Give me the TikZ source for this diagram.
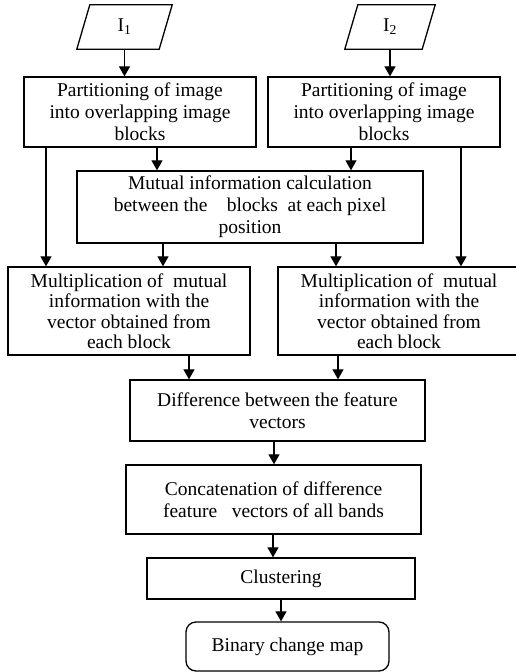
\documentclass[tikz,border=0pt]{standalone}
\usepackage{fontspec}
\setmainfont{Liberation Serif}
\usetikzlibrary{arrows.meta}

\begin{document}
\begin{tikzpicture}[x=1pt, y=-1pt,
  font=\fontsize{19.5}{22}\selectfont,
  box/.style={draw, line width=1.3pt, align=center, inner sep=2pt},
  arr/.style={line width=1.2pt, -{Triangle[length=10pt,width=11pt]}}]
  \useasboundingbox (0,0) rectangle (516,672);
  % inputs
  \node[minimum width=95pt, minimum height=44pt] (i1) at (124.5,27) {I\textsubscript{1}};
  \node[minimum width=90pt, minimum height=44pt] (i2) at (390,27) {I\textsubscript{2}};
  \foreach \n in {i1,i2} {
    \draw[line width=1.3pt] (\n.south west) -- ([xshift=13pt]\n.north west)
      -- (\n.north east) -- ([xshift=-13pt]\n.south east) -- cycle;
  }
  % processing steps
  \node[box, minimum width=232pt, minimum height=70pt] (pl) at (140,112)
    {Partitioning of image\\into overlapping image\\blocks};
  \node[box, minimum width=232pt, minimum height=70pt] (pr) at (384,112)
    {Partitioning of image\\into overlapping image\\blocks};
  \node[box, minimum width=346pt, minimum height=72pt] (mi) at (250,207)
    {Mutual information calculation\\between the\ \ \ \ blocks\ \ at each pixel\\position};
  \node[box, minimum width=242pt, minimum height=88pt, font=\fontsize{19.5}{20.5}\selectfont] (ml) at (129,311)
    {Multiplication of\ \ mutual\\information with the\\vector obtained from\\each block};
  \node[box, minimum width=242pt, minimum height=88pt, font=\fontsize{19.5}{20.5}\selectfont] (mr) at (399,311)
    {Multiplication of\ \ mutual\\information with the\\vector obtained from\\each block};
  \node[box, minimum width=295pt, minimum height=61pt] (df) at (277.5,410.5)
    {Difference between the feature\\vectors};
  \node[box, minimum width=295pt, minimum height=69pt] (cc) at (273.5,499.5)
    {Concatenation of difference\\feature\ \ \ vectors of all bands};
  \node[box, minimum width=268pt, minimum height=41pt] (cl) at (281,578.5) {Clustering};
  \node[box, rounded corners=10pt, minimum width=203pt, minimum height=49pt] (bm) at (287.5,646.5)
    {Binary change map};
  % connectors
  \draw[arr] (i1.south) -- (pl.north -| i1.south);
  \draw[arr] (i2.south) -- (pr.north -| i2.south);
  \draw[arr] (pl.south -| 46,0) -- (ml.north -| 46,0);
  \draw[arr] (pl.south -| 157,0) -- (mi.north -| 157,0);
  \draw[arr] (pr.south -| 351,0) -- (mi.north -| 351,0);
  \draw[arr] (pr.south -| 461,0) -- (mr.north -| 461,0);
  \draw[arr] (mi.south -| 163,0) -- (ml.north -| 163,0);
  \draw[arr] (mi.south -| 336,0) -- (mr.north -| 336,0);
  \draw[arr] (ml.south -| 189,0) -- (df.north -| 189,0);
  \draw[arr] (mr.south -| 338,0) -- (df.north -| 338,0);
  \draw[arr] (df.south -| 274,0) -- (cc.north -| 274,0);
  \draw[arr] (cc.south -| 273,0) -- (cl.north -| 273,0);
  \draw[arr] (cl.south) -- (bm.north -| cl.south);
\end{tikzpicture}
\end{document}
